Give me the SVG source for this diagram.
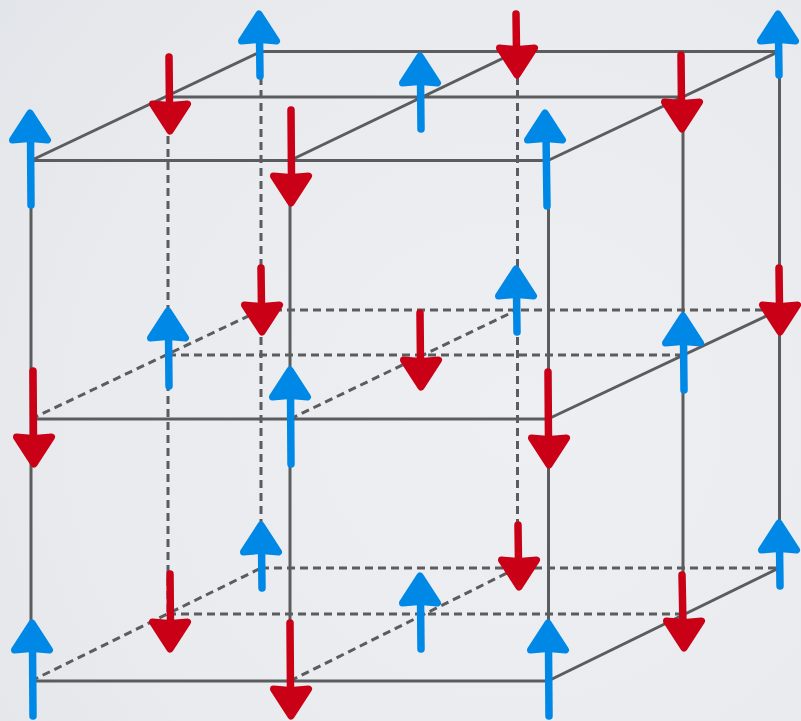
<svg xmlns="http://www.w3.org/2000/svg" width="801" height="721" viewBox="0 0 801 721">
<defs>
<radialGradient id="bg" gradientUnits="userSpaceOnUse" cx="520" cy="420" r="760"><stop offset="0" stop-color="#edeff3"/><stop offset="0.55" stop-color="#e9ebef"/><stop offset="1" stop-color="#e0e3e7"/></radialGradient>
<path id="uh" d="M0 0L17.500 27L0 25.500L-17.500 27Z"/>
<path id="dh" d="M0 0L17.500 -27L0 -25.500L-17.500 -27Z"/>
</defs>
<style>
.s{stroke:#5a5c5d;stroke-width:3;fill:none}
.d{stroke:#5a5c5d;stroke-width:3;fill:none;stroke-dasharray:8 5}
.u line{stroke:#0088e6;stroke-width:7.500;stroke-linecap:round}
.u use{fill:#0088e6;stroke:#0088e6;stroke-width:7;stroke-linejoin:round}
.r line{stroke:#c90016;stroke-width:7.500;stroke-linecap:round}
.r use{fill:#c90016;stroke:#c90016;stroke-width:7;stroke-linejoin:round}
</style>
<rect width="801" height="721" fill="url(#bg)"/>
<g id="connectors">
<path class="s" d="M31 160.500H548M168 97H683M261 51.500H779M31 160.500L261 51.500M290 160.500L517 51.500M548 160.500L779 51.500"/>
<path class="s" d="M31 160V681M290 160V681M548.500 160V681M683 97V614M779.500 51V568"/>
<path class="s" d="M31 419H548M548 419L779 310M31 681H548M548 681L779 568"/>
<path class="d" d="M168 97V614M261 51V568M517.500 51V568"/>
<path class="d" d="M168 355H683M261 310H779M31 419L261 310M290 419L517 310"/>
<path class="d" d="M168 614H683M261 568H779M31 681L261 568M290 681L517 568"/>
</g>
<g id="up1" class="u"><line x1="31" y1="205" x2="30.500" y2="135"/><use href="#uh" x="30" y="113"/></g>
<g id="up2" class="u"><line x1="260" y1="76" x2="259.500" y2="36"/><use href="#uh" x="259" y="14"/></g>
<g id="up3" class="u"><line x1="421" y1="129" x2="420.500" y2="78"/><use href="#uh" x="420" y="56"/></g>
<g id="up4" class="u"><line x1="547" y1="206" x2="546" y2="135"/><use href="#uh" x="545" y="113"/></g>
<g id="up5" class="u"><line x1="779" y1="75" x2="778.500" y2="36"/><use href="#uh" x="778" y="14"/></g>
<g id="up6" class="u"><line x1="169" y1="386" x2="168.500" y2="333"/><use href="#uh" x="168" y="311"/></g>
<g id="up7" class="u"><line x1="291" y1="464" x2="290.500" y2="392"/><use href="#uh" x="290" y="370"/></g>
<g id="up8" class="u"><line x1="517" y1="332" x2="516.500" y2="291"/><use href="#uh" x="516" y="269"/></g>
<g id="up9" class="u"><line x1="684" y1="390" x2="683.500" y2="338"/><use href="#uh" x="683" y="316"/></g>
<g id="up10" class="u"><line x1="262" y1="588" x2="261.500" y2="547"/><use href="#uh" x="261" y="525"/></g>
<g id="up11" class="u"><line x1="421" y1="649" x2="420.500" y2="598"/><use href="#uh" x="420" y="576"/></g>
<g id="up12" class="u"><line x1="780" y1="586" x2="779.500" y2="545"/><use href="#uh" x="779" y="523"/></g>
<g id="up13" class="u"><line x1="33" y1="716" x2="32.500" y2="645"/><use href="#uh" x="32" y="623"/></g>
<g id="up14" class="u"><line x1="549" y1="716" x2="548.500" y2="645"/><use href="#uh" x="548" y="623"/></g>
<g id="down1" class="r"><line x1="169" y1="57" x2="169.500" y2="108"/><use href="#dh" x="170" y="131"/></g>
<g id="down2" class="r"><line x1="291" y1="110" x2="291.500" y2="180"/><use href="#dh" x="291" y="203"/></g>
<g id="down3" class="r"><line x1="516" y1="14" x2="516.500" y2="52"/><use href="#dh" x="517" y="75"/></g>
<g id="down4" class="r"><line x1="681" y1="55" x2="681.500" y2="106"/><use href="#dh" x="682" y="129"/></g>
<g id="down5" class="r"><line x1="261" y1="268" x2="261.500" y2="309"/><use href="#dh" x="262" y="332"/></g>
<g id="down6" class="r"><line x1="420" y1="313" x2="420.500" y2="364"/><use href="#dh" x="421" y="387"/></g>
<g id="down7" class="r"><line x1="779" y1="268" x2="779.500" y2="309"/><use href="#dh" x="780" y="332"/></g>
<g id="down8" class="r"><line x1="33" y1="371" x2="33.500" y2="441"/><use href="#dh" x="34" y="464"/></g>
<g id="down9" class="r"><line x1="548" y1="372" x2="548.500" y2="442"/><use href="#dh" x="549" y="465"/></g>
<g id="down10" class="r"><line x1="518" y1="525" x2="518.500" y2="564"/><use href="#dh" x="519" y="587"/></g>
<g id="down11" class="r"><line x1="170" y1="574" x2="170.500" y2="626"/><use href="#dh" x="170" y="649"/></g>
<g id="down12" class="r"><line x1="682" y1="575" x2="683" y2="625"/><use href="#dh" x="684" y="648"/></g>
<g id="down13" class="r"><line x1="290" y1="623" x2="290.500" y2="693"/><use href="#dh" x="291" y="716"/></g>
</svg>
